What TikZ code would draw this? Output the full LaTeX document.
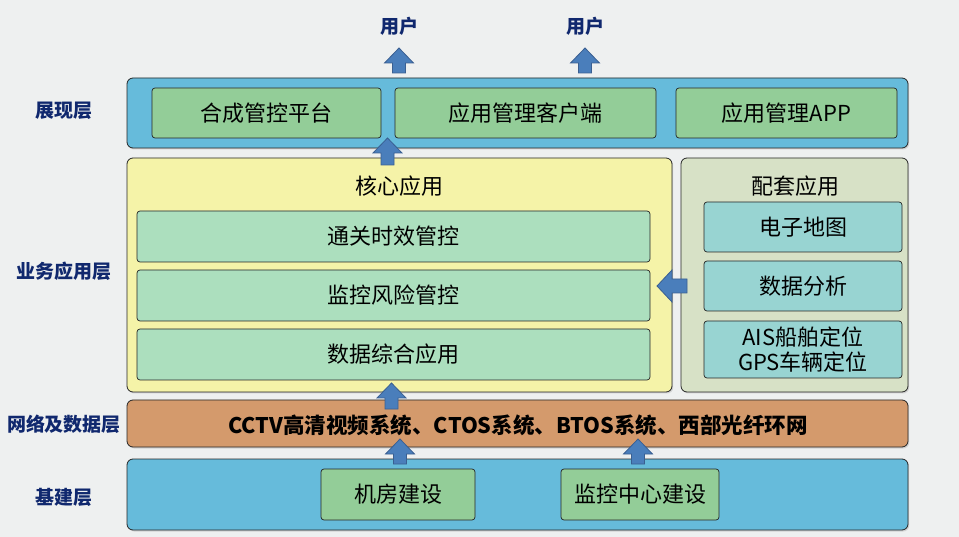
\documentclass[tikz,border=0pt]{standalone}
\usepackage{fontspec}
\setmainfont{Noto Sans CJK SC}
\usetikzlibrary{shadows}
\definecolor{bgc}{RGB}{238,240,240}
\definecolor{layerblue}{RGB}{102,187,219}
\definecolor{greenbox}{RGB}{147,205,152}
\definecolor{corefill}{RGB}{245,243,168}
\definecolor{coreinner}{RGB}{172,223,190}
\definecolor{supfill}{RGB}{215,225,198}
\definecolor{supinner}{RGB}{152,212,210}
\definecolor{netfill}{RGB}{212,154,108}
\definecolor{arrfill}{RGB}{74,126,187}
\definecolor{arrdraw}{RGB}{58,95,145}
\definecolor{navy}{RGB}{16,40,110}
\tikzset{
  outerbox/.style={draw=black!85, line width=0.8pt, rounded corners=6pt, inner sep=0pt,
    drop shadow={shadow xshift=1.2pt, shadow yshift=-1.5pt, opacity=0.25}},
  innerbox/.style={draw=black!85, line width=0.7pt, rounded corners=3pt, inner sep=0pt,
    font=\fontsize{22}{25}\selectfont, align=center},
  layerlabel/.style={text=navy, font=\fontsize{19}{22}\selectfont\bfseries},
  titletext/.style={font=\fontsize{22}{25}\selectfont},
  blk/.style={fill=arrfill, draw=arrdraw, line width=0.8pt, line join=miter}
}
\newcommand{\blkup}[3]{%
  \draw[blk] (#1,#2) -- (#1+14.5,#2+15) -- (#1+6.5,#2+15) -- (#1+6.5,#3)
    -- (#1-6.5,#3) -- (#1-6.5,#2+15) -- (#1-14.5,#2+15) -- cycle;}
\begin{document}
\begin{tikzpicture}[x=1pt,y=-1pt]
\fill[bgc] (0,0) rectangle (959,537);
\useasboundingbox (0,0) rectangle (959,537);

% users
\node[layerlabel] (u1) at (399,26) {用户};
\node[layerlabel] (u2) at (585,26) {用户};

% presentation layer
\node[outerbox, fill=layerblue, minimum width=781pt, minimum height=70pt] (pres) at (517.5,113) {};
\node[innerbox, fill=greenbox, minimum width=229pt, minimum height=50pt] (p1) at (266.5,113) {合成管控平台};
\node[innerbox, fill=greenbox, minimum width=261pt, minimum height=50pt] (p2) at (525.5,113) {应用管理客户端};
\node[innerbox, fill=greenbox, minimum width=221pt, minimum height=50pt] (p3) at (786.5,113) {应用管理APP};

% core
\node[outerbox, fill=corefill, minimum width=545pt, minimum height=234pt] (core) at (399.5,275) {};
\node[titletext] (coret) at (399,186) {核心应用};
\node[innerbox, fill=coreinner, minimum width=513pt, minimum height=51pt] (c1) at (393.5,236.5) {通关时效管控};
\node[innerbox, fill=coreinner, minimum width=513pt, minimum height=51pt] (c2) at (393.5,295.5) {监控风险管控};
\node[innerbox, fill=coreinner, minimum width=513pt, minimum height=51pt] (c3) at (393.5,354.5) {数据综合应用};

% support
\node[outerbox, fill=supfill, minimum width=227pt, minimum height=234pt] (sup) at (794.5,275) {};
\node[titletext] (supt) at (795,186) {配套应用};
\node[innerbox, fill=supinner, minimum width=198pt, minimum height=50pt] (s1) at (803,227) {电子地图};
\node[innerbox, fill=supinner, minimum width=198pt, minimum height=50pt] (s2) at (803,286) {数据分析};
\node[innerbox, fill=supinner, minimum width=198pt, minimum height=57pt] (s3) at (803,349.5) {AIS船舶定位\\GPS车辆定位};

% network
\node[outerbox, fill=netfill, minimum width=781pt, minimum height=47pt] (net) at (517.5,423.5) {};
\node[font=\fontsize{21.5}{24}\selectfont\bfseries] (nett) at (518,425) {CCTV高清视频系统、CTOS系统、BTOS系统、西部光纤环网};

% base
\node[outerbox, fill=layerblue, minimum width=781pt, minimum height=71pt] (base) at (517.5,494.5) {};
\node[innerbox, fill=greenbox, minimum width=154pt, minimum height=51pt] (b1) at (398,494.5) {机房建设};
\node[innerbox, fill=greenbox, minimum width=158pt, minimum height=51pt] (b2) at (640,494.5) {监控中心建设};

% layer labels
\node[layerlabel] (l1) at (64,111) {展现层};
\node[layerlabel] (l2) at (64,271) {业务应用层};
\node[layerlabel] (l3) at (64,424) {网络及数据层};
\node[layerlabel] (l4) at (64,497) {基建层};

% block arrows
\blkup{399}{48}{73}
\blkup{585}{48}{73}
\blkup{387.5}{138}{165}
\blkup{391.5}{383}{409}
\blkup{400}{439}{464}
\blkup{638}{439}{464}
\draw[blk] (657,286) -- (672,270) -- (672,279) -- (687,279) -- (687,293) -- (672,293) -- (672,302) -- cycle;
\end{tikzpicture}
\end{document}
